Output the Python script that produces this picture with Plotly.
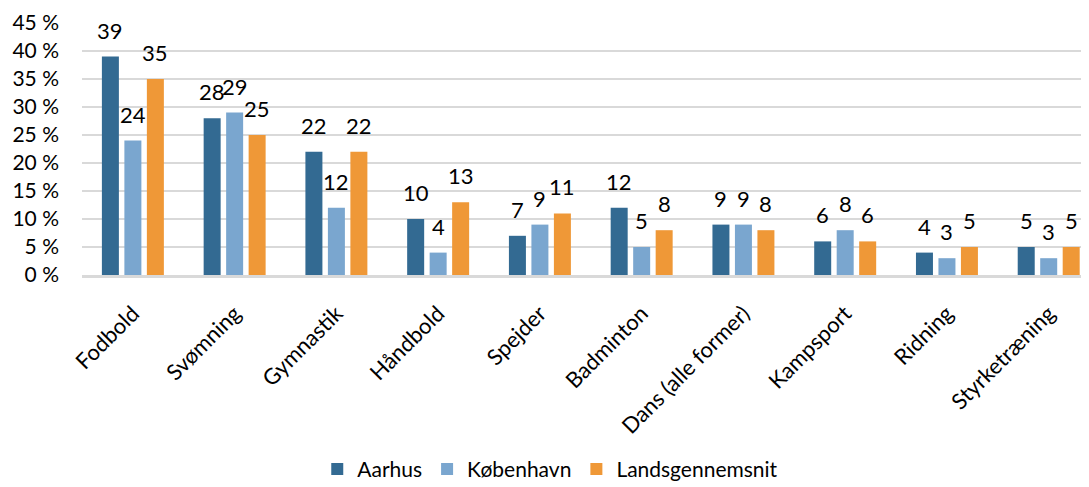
import plotly.graph_objects as go

categories = ["Fodbold", "Svømning", "Gymnastik", "Håndbold", "Spejder",
              "Badminton", "Dans (alle former)", "Kampsport", "Ridning", "Styrketræning"]
aarhus = [39, 28, 22, 10, 7, 12, 9, 6, 4, 5]
koebenhavn = [24, 29, 12, 4, 9, 5, 9, 8, 3, 3]
landsgennemsnit = [35, 25, 22, 13, 11, 8, 8, 6, 5, 5]

series = [
    ("Aarhus", aarhus, "#336a92"),
    ("København", koebenhavn, "#7aa6cf"),
    ("Landsgennemsnit", landsgennemsnit, "#ef9837"),
]

FONT = "Lato, Calibri, sans-serif"
# page body has an 8px margin, so the figure is drawn 8px in from the window corner
W, H = 1081, 479
ML, MR, MT, MB = 74, 0, 15, 212
BARGAP, GROUPGAP = 0.337, 0.244
X_RANGE = [-0.5, 9.396]

fig = go.Figure()
for name, vals, col in series:
    fig.add_trace(go.Bar(
        x=categories, y=vals, name=name,
        marker=dict(color=col, line_width=0),
        cliponaxis=False,
    ))

# value labels above bars, shifted to the bar inside its group
cat_px = (W - ML - MR) / (X_RANGE[1] - X_RANGE[0])
slot_px = cat_px * (1 - BARGAP) / 3
for i, (name, vals, col) in enumerate(series):
    for c, v in zip(categories, vals):
        fig.add_annotation(
            x=c, y=v, text=str(v), showarrow=False,
            xshift=(i - 1) * slot_px, yshift=11, yanchor="bottom",
            font=dict(size=22, color="#000000", family=FONT),
        )

fig.update_layout(
    width=W, height=H,
    barmode="group",
    bargap=BARGAP, bargroupgap=GROUPGAP,
    plot_bgcolor="white", paper_bgcolor="white",
    margin=dict(l=ML, r=MR, t=MT, b=MB, autoexpand=False),
    font=dict(family=FONT, size=21, color="#000000"),
    legend=dict(orientation="h", x=0.465, xanchor="center", y=-0.69, yanchor="top",
                font=dict(size=21), traceorder="normal"),
    yaxis=dict(range=[0, 45], dtick=5, ticksuffix=" %", automargin=False,
               showgrid=True, gridcolor="#d9d9d9", gridwidth=1.5,
               zeroline=False, showline=False, ticks="",
               ticklabelstandoff=22),
    xaxis=dict(range=X_RANGE, tickangle=-45, showline=True, automargin=False,
               linecolor="#d9d9d9", linewidth=3, ticks="", showgrid=False,
               tickfont=dict(size=22), ticklabelstandoff=14),
)

fig.write_html("out.html")
